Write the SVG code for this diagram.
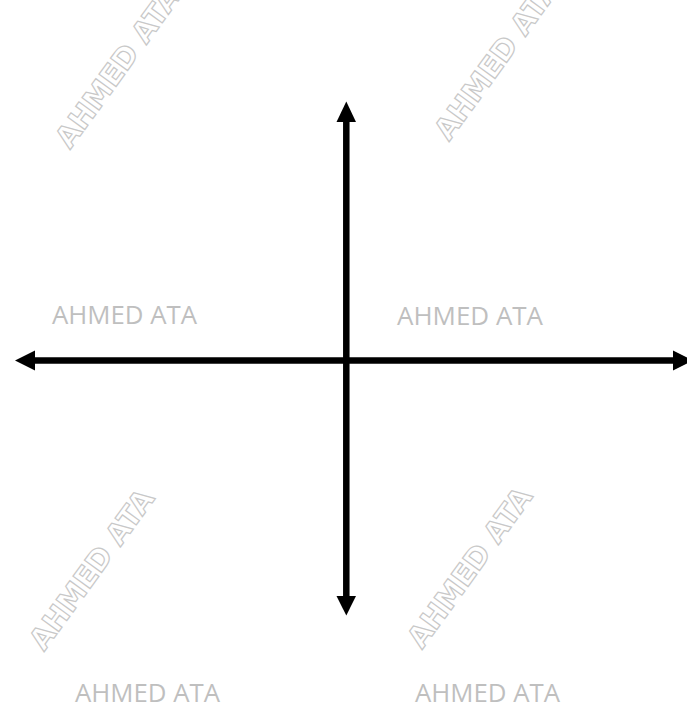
<svg xmlns="http://www.w3.org/2000/svg" width="687" height="708" viewBox="0 0 687 708">
<style>
.wm{font-family:"Open Sans","Liberation Sans",sans-serif;font-size:26px;fill:#bfbfbf;}
.wr{font-family:"DejaVu Sans",Verdana,sans-serif;font-weight:bold;font-size:29px;fill:#ffffff;stroke:#c8c8c8;stroke-width:1.2;}
.ax{stroke:#000;stroke-width:6.5;fill:none;}
</style>
<rect width="687" height="708" fill="#ffffff"/>
<g id="watermarks-rotated">
<text class="wr" transform="translate(70,150) rotate(-54)">AHMED ATA</text>
<text class="wr" transform="translate(449,142) rotate(-54)">AHMED ATA</text>
<text class="wr" transform="translate(44,652) rotate(-54)">AHMED ATA</text>
<text class="wr" transform="translate(422,650) rotate(-54)">AHMED ATA</text>
</g>
<g id="watermarks">
<text class="wm" x="52" y="324" textLength="145" lengthAdjust="spacingAndGlyphs">AHMED ATA</text>
<text class="wm" x="397" y="325" textLength="146" lengthAdjust="spacingAndGlyphs">AHMED ATA</text>
<text class="wm" x="75" y="702" textLength="145" lengthAdjust="spacingAndGlyphs">AHMED ATA</text>
<text class="wm" x="415" y="702" textLength="145" lengthAdjust="spacingAndGlyphs">AHMED ATA</text>
</g>
<g id="connectors">
<line class="ax" x1="33" y1="360.5" x2="675" y2="360.5"/>
<polygon points="15,360.5 35,350.5 35,370.5" fill="#000"/>
<polygon points="693,360.5 673,350.5 673,370.5" fill="#000"/>
<line class="ax" x1="346.3" y1="120" x2="346.3" y2="598"/>
<polygon points="346.3,101.5 336.5,122 356,122" fill="#000"/>
<polygon points="346.3,615.5 336.5,596 356,596" fill="#000"/>
</g>
</svg>
